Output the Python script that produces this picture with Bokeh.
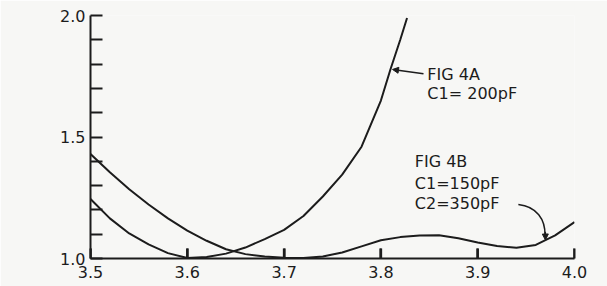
from bokeh.plotting import figure
from bokeh.models import FixedTicker, Range1d, Arrow, NormalHead, Label
from bokeh.embed import file_html
from bokeh.resources import INLINE

# Fig 4A (C1 = 200 pF)
freq_a = [3.50, 3.52, 3.54, 3.56, 3.58, 3.60, 3.62, 3.64, 3.66, 3.68, 3.70,
          3.72, 3.74, 3.76, 3.78, 3.80, 3.81, 3.82, 3.827]
swr_a = [1.245, 1.165, 1.103, 1.058, 1.022, 1.002, 1.006, 1.020, 1.045, 1.080, 1.118,
         1.175, 1.255, 1.345, 1.46, 1.65, 1.78, 1.90, 1.99]

# Fig 4B (C1 = 150 pF, C2 = 350 pF)
freq_b = [3.50, 3.52, 3.54, 3.56, 3.58, 3.60, 3.62, 3.64, 3.66, 3.68, 3.70,
          3.72, 3.74, 3.76, 3.78, 3.80, 3.82, 3.84, 3.86, 3.88, 3.90, 3.92,
          3.94, 3.96, 3.98, 4.00]
swr_b = [1.43, 1.355, 1.285, 1.222, 1.165, 1.115, 1.073, 1.038, 1.018, 1.008, 1.003,
         1.002, 1.008, 1.025, 1.05, 1.075, 1.088, 1.095, 1.096, 1.083, 1.066, 1.051,
         1.044, 1.056, 1.095, 1.15]

x_ticks = [3.5, 3.6, 3.7, 3.8, 3.9, 4.0]
y_major = [1.0, 1.5, 2.0]
y_minor = [1.1, 1.2, 1.3, 1.4, 1.6, 1.7, 1.8, 1.9]

ink = "#1c1c1c"
bg = "#f7f7f5"
font = "DejaVu Sans"

p = figure(width=607, height=286, x_range=Range1d(3.5, 4.0), y_range=Range1d(1.0, 2.0),
           output_backend="svg", toolbar_location=None,
           min_border_left=90, min_border_right=33, min_border_top=15, min_border_bottom=28)
p.background_fill_color = bg
p.border_fill_color = bg
p.outline_line_color = None
p.grid.visible = False

xa = p.xaxis[0]
ya = p.yaxis[0]

xa.ticker = FixedTicker(ticks=x_ticks, minor_ticks=[])
xa.major_label_overrides = {t: f"{t:.1f}" for t in x_ticks}
xa.major_tick_in = 10
xa.major_tick_out = 0
xa.minor_tick_line_color = None
xa.major_label_standoff = 7

ya.ticker = FixedTicker(ticks=y_major, minor_ticks=y_minor)
ya.major_label_overrides = {t: f"{t:.1f}" for t in y_major}
ya.major_tick_in = 12
ya.major_tick_out = 0
ya.minor_tick_in = 12
ya.minor_tick_out = 0
ya.minor_tick_line_color = ink
ya.minor_tick_line_width = 2
ya.major_label_standoff = 5

for ax in (xa, ya):
    ax.axis_line_color = ink
    ax.axis_line_width = 2
    ax.major_tick_line_color = ink
    ax.major_tick_line_width = 2
    ax.major_label_text_font = font
    ax.major_label_text_font_size = "16px"
    ax.major_label_text_color = ink

# inward x ticks as short vertical segments standing on the axis
tick_len = (2.0 - 1.0) * 10 / 243
p.segment(x0=x_ticks, y0=[y_major[0]] * len(x_ticks),
          x1=x_ticks, y1=[y_major[0] + tick_len] * len(x_ticks),
          line_color=ink, line_width=2.5)

# curves
p.line(freq_a, swr_a, line_color=ink, line_width=2)
p.line(freq_b, swr_b, line_color=ink, line_width=2)

# texts
def lab(x, y, t, size="16px"):
    p.add_layout(Label(x=x, y=y, text=t, text_font=font, text_font_size=size,
                       text_color=ink, text_baseline="middle", text_align="left"))

lab(3.4205, 1.634, "SWR", "17px")
lab(3.848, 1.758, "FIG 4A")
lab(3.848, 1.680, "C1= 200pF")
lab(3.835, 1.398, "FIG 4B")
lab(3.835, 1.309, "C1=150pF")
lab(3.835, 1.228, "C2=350pF")

# arrows
p.add_layout(Arrow(end=NormalHead(size=6, line_color=ink, fill_color=ink),
                   x_start=3.844, y_start=1.760, x_end=3.812, y_end=1.778,
                   line_color=ink, line_width=1.5))
p.bezier(x0=[3.942], y0=[1.222], x1=[3.9695], y1=[1.095],
         cx0=[3.961], cy0=[1.214], cx1=[3.970], cy1=[1.160],
         line_color=ink, line_width=1.5)
p.add_layout(Arrow(end=NormalHead(size=6, line_color=ink, fill_color=ink),
                   x_start=3.9698, y_start=1.110, x_end=3.9700, y_end=1.076,
                   line_color=ink, line_width=1.5))

open("out.html", "w").write(file_html(p, INLINE))
